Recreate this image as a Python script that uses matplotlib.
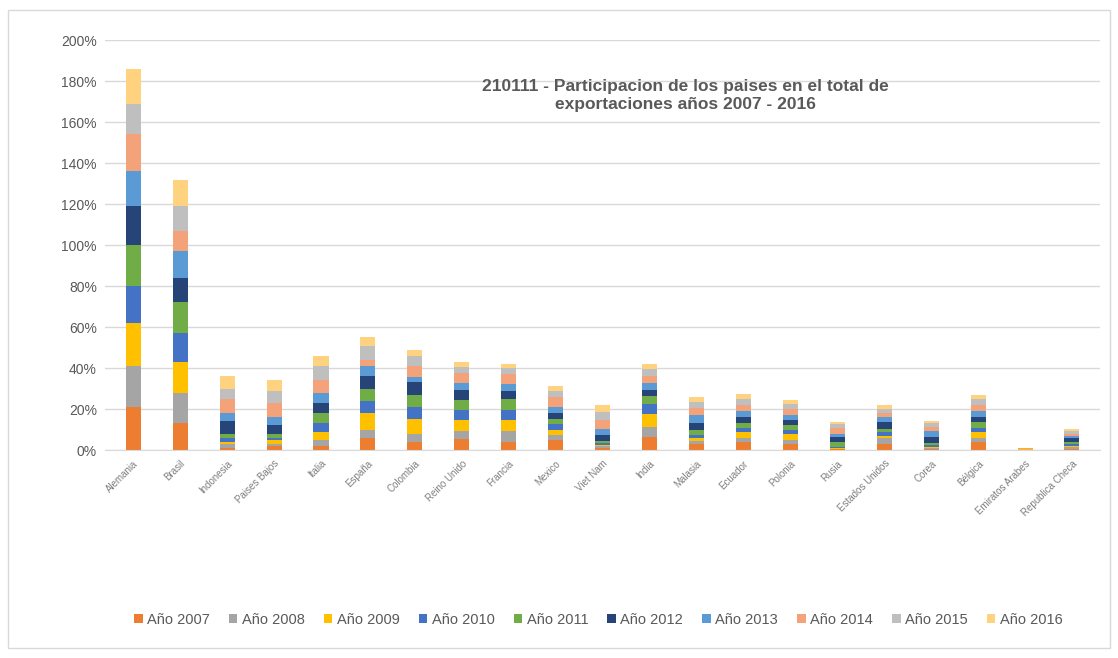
import matplotlib
matplotlib.use('Agg')
import matplotlib.pyplot as plt
import numpy as np
from matplotlib.patches import Rectangle

plt.rcParams['font.family'] = ['Liberation Sans', 'DejaVu Sans']

paises = ["Alemania", "Brasil", "Indonesia", "Paises Bajos", "Italia", "España", "Colombia",
          "Reino Unido", "Francia", "Mexico", "Viet Nam", "India", "Malasia", "Ecuador",
          "Polonia", "Rusia", "Estados Unidos", "Corea", "Bélgica", "Emiratos Arabes",
          "Republica Checa"]
anios = ["Año 2007", "Año 2008", "Año 2009", "Año 2010", "Año 2011",
         "Año 2012", "Año 2013", "Año 2014", "Año 2015", "Año 2016"]

# participacion (%) por año, un valor por pais en el orden de 'paises'
a2007 = [21, 13, 1, 2, 2, 6, 4, 5.5, 4, 5, 1, 6.5, 3, 4, 3, 0.3, 3, 0.5, 4, 0.1, 0.5]
a2008 = [20, 15, 2, 1, 3, 4, 4, 4, 5.5, 2.5, 1, 5, 1.5, 2, 2, 0.3, 3, 0.5, 2, 0.1, 1]
a2009 = [21, 15, 1, 2, 4, 8, 7, 5, 5, 2.5, 0.5, 6, 1.5, 3, 3, 0.3, 1, 0.5, 3, 0.1, 0.5]
a2010 = [18, 14, 2, 1, 4, 6, 6, 5, 5, 2.5, 1, 5, 1.5, 2, 2, 0.5, 2, 1, 2, 0.1, 1]
a2011 = [20, 15, 2, 2, 5, 6, 6, 5, 5.5, 2.5, 1, 4, 2.5, 2, 2, 2.5, 1.5, 1, 2.5, 0.1, 1]
a2012 = [19, 12, 6, 4, 5, 6, 6, 5, 4, 3, 3, 3, 3, 3, 2.5, 2.5, 3, 3, 2.5, 0.1, 2]
a2013 = [17, 13, 4, 4, 5, 5, 2.5, 3, 3, 3, 3, 3, 4, 3, 2.5, 1.5, 2.5, 3, 3, 0.1, 1]
a2014 = [18, 10, 7, 7, 6, 3, 5.5, 5, 5, 5, 4, 3.5, 3.5, 3, 3, 3, 2, 2, 3, 0.1, 1]
a2015 = [15, 12, 5, 6, 7, 7, 5, 3, 3, 3, 4, 3.5, 3, 3, 2.5, 2, 2, 1.5, 3, 0.1, 1.5]
a2016 = [17, 13, 6, 5, 5, 4, 3, 2.5, 2, 2.5, 3.5, 2.5, 2.5, 2.5, 2, 1, 2, 1, 2, 0.1, 1]

series = [a2007, a2008, a2009, a2010, a2011, a2012, a2013, a2014, a2015, a2016]
colores = ['#ED7D31', '#A5A5A5', '#FFC000', '#4472C4', '#70AD47',
           '#264478', '#5B9BD5', '#F4A27A', '#BFBFBF', '#FFD27F']

fig = plt.figure(figsize=(11.18, 6.58), dpi=100)
ax = fig.add_axes([0.094, 0.316, 0.89, 0.623])

x = np.arange(len(paises))
base = np.zeros(len(paises))
for vals, col, lab in zip(series, colores, anios):
    v = np.array(vals) / 100.0
    ax.bar(x, v, 0.32, bottom=base, color=col, label=lab)
    base += v

ax.set_ylim(0, 2.0)
ax.set_xlim(-0.6, len(paises) - 0.4)
ax.set_yticks(np.arange(0, 2.01, 0.2))
ax.set_yticklabels(["%d%%" % round(t * 100) for t in np.arange(0, 2.01, 0.2)],
                   fontsize=10, color='#595959')
ax.set_xticks(x)
ax.set_xticklabels(paises, rotation=45, ha='right', rotation_mode='anchor',
                   fontsize=7, color='#7f7f7f')
ax.tick_params(axis='both', length=0, pad=6)
ax.yaxis.grid(True, color='#D9D9D9', linewidth=1)
ax.set_axisbelow(True)
for s in ['top', 'right', 'left']:
    ax.spines[s].set_visible(False)
ax.spines['bottom'].set_color('#D9D9D9')

fig.text(0.613, 0.855, "210111 - Participacion de los paises en el total de\nexportaciones años 2007 - 2016",
         ha='center', va='center', fontsize=12.5, fontweight='bold', color='#595959',
         linespacing=1.2)

fig.legend(loc='center', bbox_to_anchor=(0.535, 0.058), ncol=10, frameon=False,
           fontsize=10.5, labelcolor='#595959', handlelength=0.6, handleheight=0.6,
           handletextpad=0.3, columnspacing=1.3)

# borde del grafico
fig.patches.append(Rectangle((0.007, 0.015), 0.986, 0.97, transform=fig.transFigure,
                             fill=False, edgecolor='#D9D9D9', linewidth=1))

fig.savefig('out.png', dpi=100)
